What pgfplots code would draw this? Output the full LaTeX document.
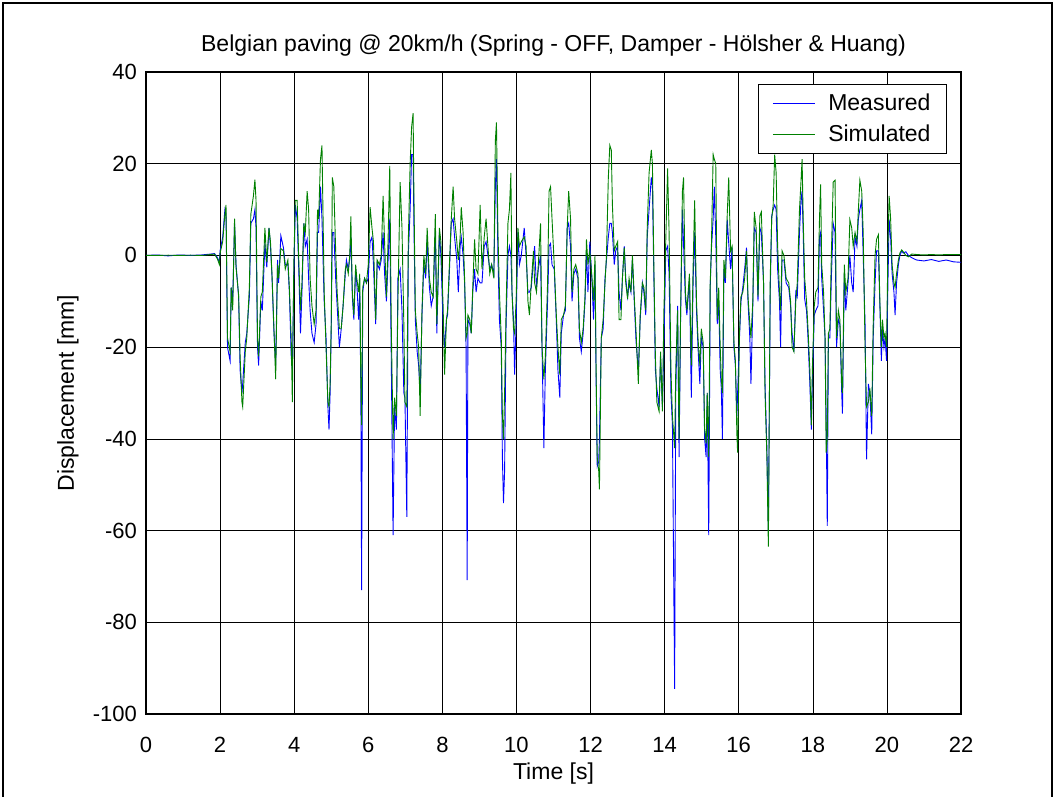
\documentclass[border=0pt]{standalone}
\usepackage{fontspec}
\setmainfont{Liberation Sans}
\usepackage{pgfplots}
\pgfplotsset{compat=1.18}
\usepackage{pgfplotstable}
\definecolor{mblue}{RGB}{0,0,255}
\definecolor{sgreen}{RGB}{0,128,0}
\pgfplotstableread{
t m s
0 0 0
0.3 0.1 0
0.6 -0.1 0.05
0.9 0.1 0
1.2 0 0.05
1.5 0.1 0
1.75 0.3 0.2
1.85 0.4 0.3
1.93 -0.5 -0.8
1.98 -1.5 -2
2.00 1 0.5
2.07 4 3
2.13 10 9
2.16 9 11
2.20 -20 -18
2.27 -23 -21
2.30 -7 -7
2.34 -10 -12
2.39 7 8
2.43 -2 -2.6
2.50 -9 -8.6
2.54 -25 -22
2.59 -30 -32
2.61 -28 -33
2.68 -19 -21
2.72 -17 -18
2.79 -9 -7
2.83 7 9
2.90 8 13
2.94 10 16.5
2.97 6 12
3.01 -20 -18
3.04 -24 -22
3.10 -10 -9
3.14 -12 -8
3.21 2.6 6
3.26 -2.6 -1.5
3.32 6 6
3.36 2 3
3.40 -4.3 -4
3.45 -16 -15
3.50 -24 -27
3.55 -1 -2
3.58 -6 -5
3.64 4.3 1.5
3.71 1.7 1
3.76 -2 -3
3.83 -2 -1
3.87 -8 -7
3.92 -22 -18
3.95 -25 -32
3.99 -5 -2
4.03 11 12
4.08 8 12
4.12 -2 0
4.17 -17 -12
4.21 -8 -6
4.26 7 7
4.30 2 5
4.35 3.5 14
4.39 -5 10
4.43 -12 -5
4.48 -17 -11
4.54 -19 -15
4.59 -15 -12
4.63 5 10
4.66 5 8
4.71 15 21
4.75 8 24
4.81 -10 -8
4.86 -18 -20
4.91 -33 -32
4.94 -38 -33
4.97 -30 -28
5.00 -16 -15
5.03 5 17
5.07 5 15
5.12 -5 1
5.16 -11 -8
5.22 -20 -16
5.27 -16 -16
5.32 -11 -11
5.38 -4 -3
5.41 -1 -2
5.46 -3 -4
5.50 -0.5 0
5.53 4 8.5
5.57 -9 -8
5.61 -14 -13
5.66 -3 -2
5.69 -6 -5
5.74 -14 -8
5.77 -8 -4
5.80 -30 -28
5.82 -73 -37
5.85 -8 -7
5.90 -5 -5
5.95 -6 -6
6.00 -5 -2
6.05 3 10.5
6.10 4 6
6.14 -2 3
6.20 -15 -14
6.24 -1.7 -1
6.30 -3 -2
6.35 -1 0
6.40 5 13
6.44 -4 3
6.49 -10 -9
6.53 -2 2
6.58 8 19.5
6.62 -22 -15
6.67 -61 -40
6.71 -33 -31
6.76 -38 -35
6.80 -5 -10
6.86 -3 16
6.91 -12 6
6.96 -30 -15
6.99 -31 -32
7.04 -57 -33
7.08 0 3
7.13 10 20
7.17 22 28
7.21 22 31
7.23 8 15
7.27 -14 -12
7.32 -21 -17
7.36 -24 -20
7.40 -30 -35
7.45 -13 -12
7.50 -2 0
7.55 -5 -4
7.59 3.5 6
7.65 -7 -5
7.70 -11 -8
7.75 -9 -9
7.81 5 9
7.85 -17 -15
7.92 5 6
7.96 0 3
8.02 -15 -11
8.06 -20 -26
8.11 -14 -14
8.14 -13 -12
8.19 -3.5 -2
8.24 7 7.8
8.29 8 15
8.33 4 8
8.39 -1 3
8.43 -8 -1
8.48 2 4
8.51 4 10.5
8.56 0 5
8.60 -6 -5
8.64 -20 -18
8.67 -70.8 -17
8.69 -14 -13
8.74 -15 -14
8.78 -17 -17
8.82 -8 -7
8.87 -3 3.5
8.91 -8 -3
8.96 -5 -4
9.02 -6 11
9.07 -6 -3
9.13 2 4
9.18 3 8
9.23 0 2
9.28 -3 -4
9.33 -2 -2
9.39 -4 -5
9.43 15 25
9.46 21 29
9.50 0 5
9.54 -14 -8
9.59 -20 -18
9.62 -44 -35
9.65 -54 -40
9.68 -47 -30
9.72 -15 -12
9.77 0 7
9.81 2 10
9.85 0 18
9.88 -8 -8
9.92 -14 -16
9.95 -26 -17
9.99 -15 -10
10.04 5 6
10.08 -2 2
10.13 0 3
10.21 6 4
10.26 0 2
10.31 -8 -10
10.35 -8 -13
10.40 -7 -6
10.46 -1 1
10.49 2 -6
10.54 -7 -8
10.59 -3 -2
10.65 0 7
10.69 -20 -20
10.74 -42 -27
10.78 -25 -22
10.84 -10 -6
10.88 2 14
10.92 2.6 15
10.96 -2 8
11.02 -3 -2
11.07 -13 -12
11.12 -25 -20
11.17 -31 -26
11.21 -17 -14
11.27 -13 -13
11.32 -12 -11
11.37 6 6
11.41 7 14
11.46 2 8
11.50 -10 -8
11.55 -4 -3
11.60 -3 -2
11.66 -5 -4
11.70 -18 -16
11.75 -21 -19
11.80 -17 -16
11.85 -10 -9
11.89 1 3.5
11.93 -8 -2
11.98 3 1
12.04 -6 -5
12.08 -14 -10
12.12 -2 0
12.15 -27 -25
12.18 -46 -44
12.22 -45 -47
12.24 -40 -51
12.29 -18 -18
12.34 -16 -14
12.39 -5 -6
12.43 -1 0
12.48 4 17
12.52 7 24
12.56 7 23
12.59 5 11
12.64 -2 1
12.68 1 2
12.73 2 3
12.77 -8 -14
12.82 -12 -14
12.86 -5 -5
12.91 2 1.7
12.95 -5 -6
13.00 -9 -9.5
13.04 -6 -5
13.09 -8 -8
13.13 -1 0
13.18 -10 -9
13.23 -19 -17
13.29 -25 -28
13.34 -14 -13
13.40 -6 -6
13.44 -8 -7
13.49 -13 -12
13.53 4 6
13.58 10 18
13.64 17 23
13.67 15 20
13.71 -5 -3
13.75 -25 -22
13.79 -29 -32
13.85 -33 -34
13.89 -22 -21
13.94 -33 -34
13.98 -20 -12
14.03 1 3
14.08 2 19
14.12 -4 5
14.17 -30 -25
14.21 -37 -35
14.27 -94.5 -42
14.30 -30 -25
14.35 -11 -12
14.39 -44 -40
14.43 -14 -13
14.48 10 14
14.51 2.6 17
14.56 -9.5 -8
14.60 -13 -12
14.67 -5 -4
14.72 -31 -24
14.77 -5 -2
14.81 5 12
14.86 -12 -10
14.90 -20 -18
14.95 -28 -24
14.99 -18 -16
15.04 -20 -19
15.08 -40 -38
15.12 -44 -41
15.15 -30 -30
15.19 -61 -44
15.23 -7 -6
15.26 1 1
15.31 8 22
15.34 15 21
15.38 4 20
15.42 -15 -14
15.46 -10 -7
15.50 -25 -20
15.53 -29 -27
15.56 -40 -30
15.60 -3 -1
15.64 -6 -5
15.69 7.8 9
15.73 2.6 17
15.78 -3 1
15.82 1.7 2
15.87 -20 -19
15.91 -24 -23
15.95 -35 -39
15.97 -30 -43
16.02 -18 -17
16.06 -10 -9
16.11 -7 -8
16.16 -3 -5
16.21 1.7 1
16.25 -10 -9
16.30 -18 -15
16.33 -28 -18
16.38 -11 -10
16.42 6 9.5
16.47 5 6
16.52 -10 -9
16.57 6 8.6
16.61 5 9.5
16.67 -6 -6
16.71 -28 -30
16.76 -42 -44
16.80 -60 -63.5
16.85 -8 -5
16.89 8.6 8
16.93 10 11
16.97 11 22
17.01 10 18
17.05 -3 2
17.10 -10 -8
17.13 -20 -12
17.17 -1 1
17.22 -1 0
17.28 -6 -5
17.35 -7 -6
17.40 -11 -10
17.44 -17 -20
17.49 -21 -21
17.54 -8 -10
17.58 -9 -6
17.64 5 10
17.68 12 16
17.71 14 21
17.74 5 8
17.78 -9.5 -5
17.83 -12 -10
17.87 -18 -16
17.92 -28 -25
17.96 -38 -37
17.99 -27 -24
18.04 -13 -11
18.08 -12 -8
18.14 -11 -7
18.18 4 8
18.21 5 15.5
18.24 -5 -2
18.29 -12 -8
18.33 -18 -18
18.36 -35 -43
18.39 -59 -40
18.42 -18 -17
18.46 -18 -16
18.50 -5 0
18.55 7 16
18.60 5 16.4
18.64 -20 -18
18.69 -14 -12
18.73 -15 -14
18.78 -30 -28
18.80 -34.5 -30
18.85 -4 -2
18.89 -12 -8
18.95 -6 -5
19.00 0 7.8
19.05 -6 6
19.09 -8 2
19.14 4 5
19.19 2 3
19.23 8 10
19.27 10 16.4
19.32 12 14
19.36 0 5
19.41 -15 -20
19.45 -44.5 -33
19.50 -28 -32
19.54 -30 -29
19.59 -39 -35
19.63 -18 -15
19.68 -6 0
19.72 1 3.5
19.77 1 4.5
19.81 -11 -10
19.85 -23 -20
19.88 -16 -14
19.92 -20 -18
19.95 -18 -17
19.99 -23 -20
20.03 -5 3
20.06 7.8 13
20.10 4 8
20.14 -4 -2
20.19 -8 -6
20.22 -13 -7
20.26 -6 -4
20.31 -2 -1
20.35 0 0.5
20.40 1 1.2
20.44 0.5 0.8
20.51 0.8 0
20.58 0 -0.3
20.67 -0.5 0.3
20.80 -1 0.2
21.00 -1.2 0.1
21.20 -0.9 0.2
21.40 -1.3 0.1
21.60 -1.0 0.2
21.80 -1.4 0.2
22.00 -1.5 0.2
}\datatable
\begin{document}
\begin{tikzpicture}
\path[use as bounding box] (0pt,0pt) rectangle (1055pt,797pt);
\draw[line width=1.5pt] (3pt,0pt) -- (3pt,794pt) -- (1052pt,794pt) -- (1052pt,0pt);
\begin{axis}[
  at={(146pt,83pt)}, anchor=south west,
  scale only axis, width=815pt, height=642pt,
  xmin=0, xmax=22, ymin=-100, ymax=40,
  xtick={0,2,...,22}, ytick={-100,-80,...,40},
  grid=major, grid style={black, line width=0.5pt},
  axis line style={line width=1.3pt},
  tick style={black, line width=0.5pt},
  major tick length=5pt,
  tick align=inside,
  /pgf/number format/assume math mode=true,
  ticklabel style={font=\fontsize{22}{26}\selectfont},
  xticklabel style={anchor=center, yshift=-31pt},
  yticklabel style={anchor=east, inner sep=0pt, xshift=-9pt},
  xlabel={Time [s]},
  ylabel={Displacement [mm]},
  label style={font=\fontsize{23}{27}\selectfont},
  xlabel style={at={(axis description cs:0.5,0)}, anchor=center, yshift=-60pt},
  ylabel style={at={(axis description cs:-0.0957,0.5)}, anchor=center},
  title={Belgian paving @ 20km/h (Spring - OFF, Damper - Hölsher \& Huang)},
  title style={font=\fontsize{23}{27}\selectfont, at={(axis description cs:0.5,1)}, anchor=center, yshift=20pt},
  legend style={at={(axis description cs:0.983,0.982)}, anchor=north east, draw=black, line width=1.2pt,
    font=\fontsize{23}{27}\selectfont, inner xsep=14pt, inner ysep=8pt, row sep=9pt, cells={anchor=west},
    /tikz/every odd column/.append style={column sep=11pt}},
  legend image code/.code={\draw[#1] (0pt,0pt) -- (42pt,0pt);},
]
\addplot[color=mblue, draw=mblue, line width=0.9pt] table[x=t, y=m]{\datatable};
\addlegendentry{Measured}
\addplot[color=sgreen, draw=sgreen, line width=0.9pt] table[x=t, y=s]{\datatable};
\addlegendentry{Simulated}
\end{axis}
\end{tikzpicture}
\end{document}
